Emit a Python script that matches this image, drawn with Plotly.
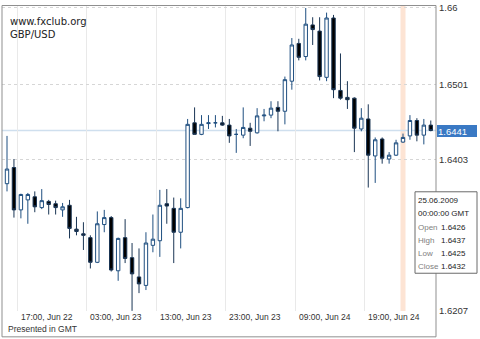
import pandas as pd
import plotly.graph_objects as go

# ---------------- data (GBP/USD, hourly, GMT) ----------------
start_time = "2009-06-22 15:00"
opens = [1.6372, 1.6393, 1.6338, 1.6351, 1.6355, 1.6341, 1.6349, 1.6346, 1.6338, 1.6344,
         1.6313, 1.6307, 1.6302, 1.6270, 1.6319, 1.6328, 1.6259, 1.6302, 1.6276, 1.6251,
         1.6240, 1.6292, 1.6298, 1.6346, 1.6340, 1.6309, 1.6341, 1.6451, 1.6436, 1.6450,
         1.6451, 1.6451, 1.6448, 1.6436, 1.6435, 1.6444, 1.6438, 1.6460, 1.6461, 1.6471,
         1.6466, 1.6505, 1.6554, 1.6537, 1.6578, 1.6570, 1.6510, 1.6587, 1.6493, 1.6484,
         1.6483, 1.6443, 1.6456, 1.6408, 1.6430, 1.6404, 1.6409, 1.6426, 1.6434, 1.6454,
         1.6435, 1.6448]
highs = [1.6434, 1.6404, 1.6359, 1.6360, 1.6362, 1.6365, 1.6351, 1.6350, 1.6347, 1.6351,
         1.6329, 1.6322, 1.6305, 1.6336, 1.6338, 1.6330, 1.6302, 1.6326, 1.6295, 1.6288,
         1.6309, 1.6332, 1.6364, 1.6365, 1.6354, 1.6353, 1.6456, 1.6471, 1.6461, 1.6461,
         1.6461, 1.6460, 1.6456, 1.6443, 1.6471, 1.6451, 1.6470, 1.6469, 1.6479, 1.6479,
         1.6511, 1.6561, 1.6560, 1.6600, 1.6588, 1.6588, 1.6594, 1.6591, 1.6541, 1.6505,
         1.6484, 1.6470, 1.6475, 1.6432, 1.6432, 1.6413, 1.6429, 1.6437, 1.6461, 1.6457,
         1.6456, 1.6454]
lows = [1.6362, 1.6328, 1.6327, 1.6320, 1.6335, 1.6339, 1.6332, 1.6332, 1.6329, 1.6301,
        1.6305, 1.6286, 1.6262, 1.6269, 1.6309, 1.6258, 1.6246, 1.6269, 1.6207, 1.6230,
        1.6234, 1.6283, 1.6277, 1.6320, 1.6269, 1.6288, 1.6340, 1.6436, 1.6435, 1.6443,
        1.6445, 1.6447, 1.6425, 1.6412, 1.6431, 1.6421, 1.6437, 1.6453, 1.6457, 1.6440,
        1.6449, 1.6494, 1.6532, 1.6532, 1.6552, 1.6506, 1.6505, 1.6483, 1.6481, 1.6469,
        1.6413, 1.6440, 1.6367, 1.6373, 1.6398, 1.6398, 1.6408, 1.6425, 1.6429, 1.6427,
        1.6423, 1.6440]
closes = [1.6391, 1.6338, 1.6358, 1.6358, 1.6342, 1.6350, 1.6345, 1.6341, 1.6342, 1.6314,
          1.6310, 1.6305, 1.6270, 1.6320, 1.6328, 1.6260, 1.6301, 1.6275, 1.6255, 1.6242,
          1.6295, 1.6300, 1.6344, 1.6343, 1.6309, 1.6340, 1.6449, 1.6436, 1.6449, 1.6451,
          1.6451, 1.6448, 1.6434, 1.6436, 1.6445, 1.6440, 1.6460, 1.6461, 1.6470, 1.6466,
          1.6507, 1.6552, 1.6536, 1.6579, 1.6572, 1.6511, 1.6587, 1.6494, 1.6483, 1.6481,
          1.6444, 1.6457, 1.6409, 1.6429, 1.6405, 1.6409, 1.6425, 1.6432, 1.6454, 1.6435,
          1.6448, 1.6441]

tick_times = ["2009-06-22 17:00", "2009-06-23 03:00", "2009-06-23 13:00",
              "2009-06-23 23:00", "2009-06-24 09:00", "2009-06-24 19:00"]
tick_labels = ["17:00, Jun 22", "03:00, Jun 23", "13:00, Jun 23",
               "23:00, Jun 23", "09:00, Jun 24", "19:00, Jun 24"]
price_ticks = [1.6207, 1.6403, 1.6501, 1.66]
price_labels = ["1.6207", "1.6403", "1.6501", "1.66"]
selected_time = "2009-06-25 00:00"

# ---------------- build ----------------
times = pd.date_range(start_time, periods=len(opens), freq="h")
x = list(range(len(opens)))
grid_pos = [times.get_loc(pd.Timestamp(t)) - 0.5 for t in tick_times]
sel = times.get_loc(pd.Timestamp(selected_time))
last_price = closes[-1]


def px(v):
    return (v - 2) / 434.0


def py(v):
    return (311 - v) / 307.0


fig = go.Figure()
fig.add_trace(go.Candlestick(
    x=x, open=opens, high=highs, low=lows, close=closes,
    increasing=dict(line=dict(color="#1f4f80", width=1), fillcolor="#ffffff"),
    decreasing=dict(line=dict(color="#1a3554", width=1), fillcolor="#000000"),
    whiskerwidth=0, hoverinfo="skip", showlegend=False,
))

FONT = "Liberation Sans"
fig.update_layout(
    width=480, height=339,
    margin=dict(l=2, r=44, t=4, b=28, pad=0),
    paper_bgcolor="white", plot_bgcolor="white",
    showlegend=False,
    xaxis=dict(range=[-0.72, 61.75], tickvals=grid_pos, showticklabels=False,
               showgrid=True, gridcolor="#e9e9e9", gridwidth=1, zeroline=False,
               showline=False, ticks="", rangeslider=dict(visible=False), fixedrange=True),
    yaxis=dict(side="right", range=[1.62068, 1.660258], tickvals=price_ticks,
               ticktext=price_labels, showgrid=True, gridcolor="#d6d6d6",
               griddash="3px,3px", zeroline=False, showline=False, ticks="",
               ticklabelstandoff=2,
               tickfont=dict(family=FONT, size=9.5, color="#333333"), fixedrange=True),
)

shapes = [
    # highlighted (hovered) candle band
    dict(type="rect", xref="x", yref="paper", x0=sel - 0.36, x1=sel + 0.36, y0=0, y1=1,
         fillcolor="#fde4d4", line=dict(width=0), layer="below"),
    # current price line
    dict(type="line", xref="paper", yref="y", x0=0, x1=1, y0=last_price, y1=last_price,
         line=dict(color="#cfdfee", width=1.5), layer="below"),
    # chart frame
    dict(type="rect", xref="paper", yref="paper", x0=px(2), x1=px(436), y0=py(337), y1=py(3.5),
         line=dict(color="#8f8f8f", width=1), fillcolor="rgba(0,0,0,0)", layer="above"),
    # tooltip box
    dict(type="rect", xref="paper", yref="paper", x0=px(415), x1=px(477), y0=py(273), y1=py(191),
         line=dict(color="#6a6a6a", width=1), fillcolor="white", layer="above"),
]
fig.update_layout(shapes=shapes)

ann = []
for g, lab in zip(grid_pos, tick_labels):
    ann.append(dict(x=g + 0.35, y=py(317), xref="x", yref="paper", text=lab, showarrow=False,
                    xanchor="left", yanchor="middle", borderpad=0,
                    font=dict(family=FONT, size=8.5, color="#333333")))
ann.append(dict(x=px(7), y=py(329.5), xref="paper", yref="paper", text="Presented in GMT",
                showarrow=False, xanchor="left", yanchor="middle", borderpad=0,
                font=dict(family=FONT, size=8.5, color="#333333")))
ann.append(dict(x=px(9), y=py(20), xref="paper", yref="paper", text="www.fxclub.org",
                showarrow=False, xanchor="left", yanchor="middle", borderpad=0,
                font=dict(family="DejaVu Sans", size=10, color="#222222")))
ann.append(dict(x=px(9), y=py(33), xref="paper", yref="paper", text="GBP/USD",
                showarrow=False, xanchor="left", yanchor="middle", borderpad=0,
                font=dict(family="DejaVu Sans", size=10, color="#222222")))
# current price tag
ann.append(dict(x=px(437), y=last_price, xref="paper", yref="y", text=f"{last_price:.4f}",
                showarrow=False, xanchor="left", yanchor="middle", align="left",
                width=38, height=10, borderpad=1, borderwidth=0, bgcolor="#3a79c4",
                font=dict(family=FONT, size=9.5, color="white")))
# tooltip text
t = times[sel]
tip_lines = [
    (t.strftime("%d.%m.%Y"), None, 200),
    (t.strftime("%H:%M:%S") + " GMT", None, 213),
    ("Open", opens[sel], 227),
    ("High", highs[sel], 240),
    ("Low", lows[sel], 253),
    ("Close", closes[sel], 266),
]
for label, val, yy in tip_lines:
    col = "#222222" if val is None else "#808080"
    ann.append(dict(x=px(417), y=py(yy), xref="paper", yref="paper", text=label,
                    showarrow=False, xanchor="left", yanchor="middle", borderpad=0,
                    font=dict(family=FONT, size=8, color=col)))
    if val is not None:
        ann.append(dict(x=px(440), y=py(yy), xref="paper", yref="paper", text=f"{val:.4f}",
                        showarrow=False, xanchor="left", yanchor="middle", borderpad=0,
                        font=dict(family=FONT, size=8, color="#222222")))
fig.update_layout(annotations=ann)

fig.write_html("out.html")
